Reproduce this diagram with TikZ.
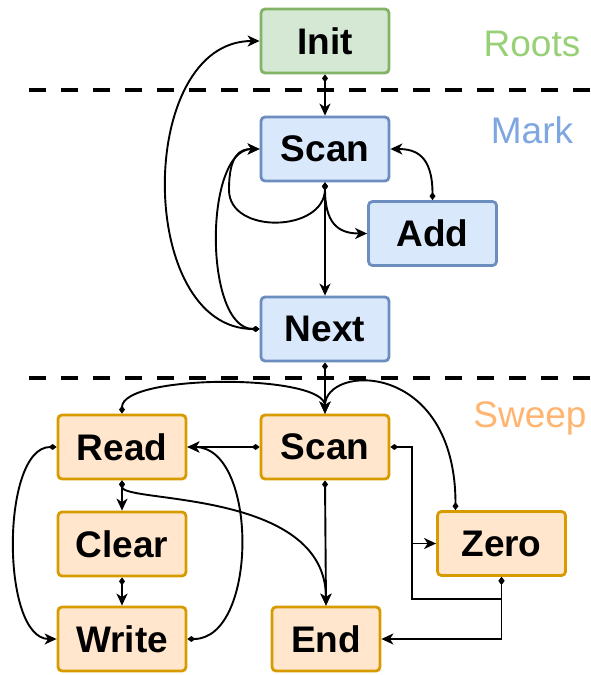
\documentclass[tikz,border=0pt]{standalone}
\usepackage{fontspec}
\setmainfont{Liberation Sans}
\usetikzlibrary{arrows.meta,calc}
\definecolor{rootfill}{HTML}{D5E8D4}
\definecolor{rootline}{HTML}{82B366}
\definecolor{roottext}{HTML}{97D077}
\definecolor{markfill}{HTML}{DAE8FC}
\definecolor{markline}{HTML}{6C8EBF}
\definecolor{marktext}{HTML}{7EA6E0}
\definecolor{sweepfill}{HTML}{FFE6CC}
\definecolor{sweepline}{HTML}{D79B00}
\definecolor{sweeptext}{HTML}{FFB570}
\tikzset{
  box/.style={draw, line width=2.8pt, rounded corners=4pt, minimum width=128pt,
    minimum height=64pt, inner sep=0pt, font=\fontsize{37}{40}\selectfont\bfseries},
  rootbox/.style={box, fill=rootfill, draw=rootline},
  markbox/.style={box, fill=markfill, draw=markline},
  sweepbox/.style={box, fill=sweepfill, draw=sweepline},
  phase/.style={font=\fontsize{37}{40}\selectfont},
  link/.style={line width=1.9pt, {Diamond[length=8pt,width=6pt]}-{Stealth[length=12pt,width=11pt,inset=3.5pt]}},
  rail/.style={line width=1.9pt, {Diamond[length=8pt,width=6pt]}-},
  divider/.style={line width=4pt, dash pattern=on 17pt off 15pt},
}
\begin{document}
\begin{tikzpicture}[x=1pt,y=-1pt]
\useasboundingbox (0,0) rectangle (590,675);

% phase dividers
\draw[divider] (29,90) -- (590,90);
\draw[divider] (29,378) -- (590,378);

% phase titles
\node[phase, text=roottext] (tRoots) at (532,44) {Roots};
\node[phase, text=marktext] (tMark) at (532,130) {Mark};
\node[phase, text=sweeptext] (tSweep) at (530,418) {Sweep};

% nodes
\node[rootbox] (Init) at (325,41) {Init};
\node[markbox] (MScan) at (325,149) {Scan};
\node[markbox] (Add) at (432.5,233.5) {Add};
\node[markbox] (Next) at (325,329) {Next};
\node[sweepbox] (Read) at (122,447) {Read};
\node[sweepbox] (SScan) at (325,447) {Scan};
\node[sweepbox] (Clear) at (122,544) {Clear};
\node[sweepbox] (Zero) at (501.5,543.5) {Zero};
\node[sweepbox] (Write) at (122,639) {Write};
\node[sweepbox, minimum width=108pt] (End) at (326,639) {End};

% mark phase
\draw[link] (Init.south) -- (MScan.north);
\draw[link] (Next.west) .. controls +(-124,0) and +(-124,0) .. (Init.west);
\draw[link] (Next.west) .. controls +(-56,0) and +(-56,0) .. (MScan.west);
\coordinate (loop) at (229,190);
\draw[link] (MScan.south) .. controls +(0,50) and +(0,45) .. (loop)
  .. controls +(0,-35) and +(-20,0) .. (MScan.west);
\draw[link] (MScan.south) .. controls +(0,40) and +(-30,0) .. (Add.west);
\draw[link] (MScan.south) -- (Next.north);
\draw[link] (Add.north) .. controls +(0,-45) and +(25,0) .. (MScan.east);
\draw[link] (Next.south) -- (SScan.north);

% sweep phase
\coordinate (zt) at ($(Zero.north)+(-46,0)$);
\coordinate (zrail) at ($(SScan.east|-Zero.west)+(22,0)$);
\draw[link] (Read.north) .. controls +(0,-40) and +(0,-40) .. (SScan.north);
\draw[link] (zt) .. controls +(0,-150) and +(0,-50) .. (SScan.north);
\draw[link] (SScan.west) -- (Read.east);
\draw[link] (SScan.east) -- ++(22,0) |- (Zero.west);
\draw[rail] (Zero.south) -- ++(0,22) -| (zrail);
\draw[link] (Zero.south) |- (End.east);
\draw[link] (SScan.south) -- (End.north);
\draw[link] (Read.south) -- (Clear.north);
\draw[link] (Read.south) .. controls +(0,23) and +(0,-117) .. (End.north);
\draw[link] (Clear.south) -- (Write.north);
\draw[link] (Read.west) .. controls +(-56,0) and +(-56,0) .. (Write.west);
\draw[link] (Write.east) .. controls +(71,0) and +(71,0) .. (Read.east);
\end{tikzpicture}
\end{document}
